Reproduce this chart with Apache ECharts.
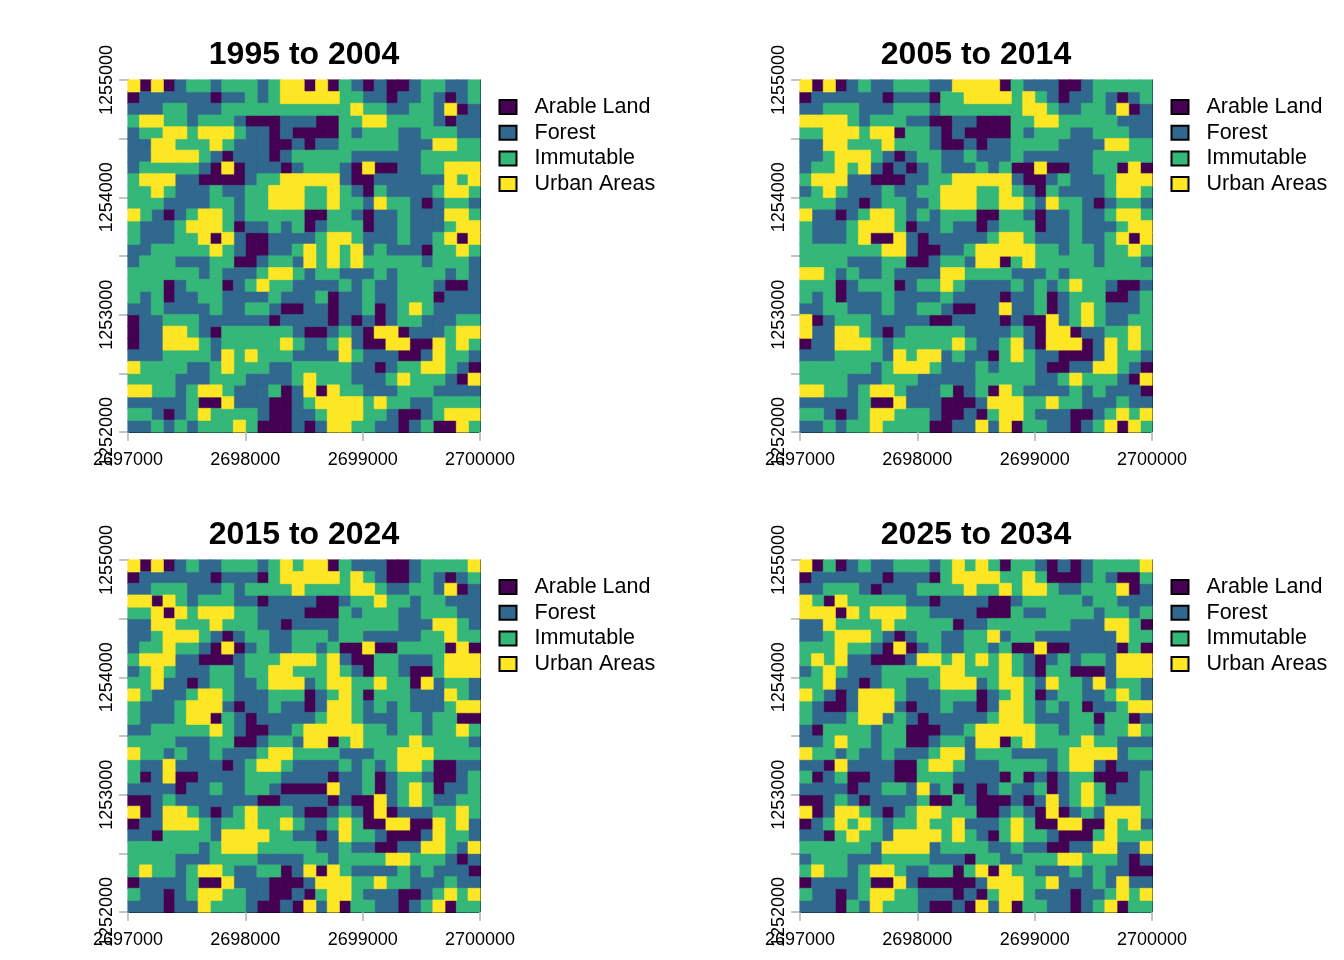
<!DOCTYPE html>
<html>
<head>
<meta charset="utf-8">
<style>html,body{margin:0;padding:0;background:#fff}#c{width:1344px;height:960px}</style>
<script src="https://cdn.jsdelivr.net/npm/echarts@6/dist/echarts.min.js"></script>
</head>
<body>
<div id="c"></div>
<script>
const classNames = ['Arable Land', 'Forest', 'Immutable', 'Urban Areas'];
const classColors = ['#440154', '#31688E', '#35B779', '#FDE725'];
const panelTitles = ['1995 to 2004', '2005 to 2014', '2015 to 2024', '2025 to 2034'];
const eastingRange = [2697000, 2700000];
const northingRange = [1252000, 1255000];

const grid1995 = [
[3,0,3,0,1,2,2,1,2,2,2,1,2,3,3,0,3,0,2,1,0,1,0,0,1,2,2,1,1,2],
[0,1,1,1,1,1,1,0,1,1,2,1,2,3,3,3,3,3,2,2,1,1,0,1,1,2,1,0,1,2],
[1,1,1,2,2,1,1,1,2,2,2,2,2,2,2,2,2,2,2,3,2,2,1,1,2,2,1,3,0,1],
[2,3,3,2,2,1,2,2,2,1,0,0,0,1,1,1,0,0,2,2,3,3,2,2,2,2,1,0,1,1],
[1,2,2,3,3,2,3,3,3,2,1,1,0,1,0,0,0,0,2,1,2,2,2,1,1,2,2,2,1,1],
[1,1,3,3,2,2,2,3,2,1,1,1,0,0,1,0,1,1,2,2,2,2,2,1,1,1,3,3,2,2],
[1,1,3,3,3,3,2,1,0,1,1,1,0,1,2,2,2,2,2,1,1,1,1,1,1,2,2,2,2,2],
[1,2,2,2,2,2,1,0,3,0,1,1,1,0,1,2,2,2,1,0,3,0,0,1,1,2,2,3,3,3],
[2,3,3,3,1,1,0,0,0,0,1,2,2,3,3,3,3,3,1,0,0,1,1,1,1,1,1,3,2,3],
[2,2,3,2,1,1,1,2,1,1,2,2,3,3,3,2,2,3,2,1,0,2,1,1,1,1,2,3,3,2],
[2,2,2,1,1,1,1,2,2,1,2,2,3,3,3,2,2,3,2,2,1,3,2,2,1,0,1,2,2,1],
[3,2,1,0,1,2,3,3,2,1,2,2,2,2,2,0,0,2,2,1,0,1,1,2,1,1,1,3,3,2],
[2,1,1,1,2,3,3,3,2,0,1,1,2,1,2,0,1,2,2,2,0,1,1,2,1,1,1,2,3,3],
[2,1,1,1,2,2,3,0,3,1,0,0,1,1,1,1,2,3,3,2,1,1,1,2,1,1,2,3,0,3],
[1,1,2,2,2,2,2,3,2,1,0,0,1,1,2,3,2,3,2,3,1,2,1,1,1,0,2,2,3,2],
[1,2,2,2,1,1,1,2,2,0,0,1,2,2,1,3,2,3,2,3,2,2,2,2,2,1,2,2,2,1],
[2,2,2,2,2,2,1,2,1,1,1,2,3,3,2,1,2,2,1,1,1,2,1,2,2,2,2,1,2,1],
[2,2,2,0,1,2,2,2,0,1,2,3,2,2,1,1,1,1,2,1,2,1,1,2,2,2,1,0,0,1],
[2,1,2,0,1,1,2,2,1,1,1,1,2,1,1,1,2,0,1,1,2,1,1,2,2,2,0,1,1,1],
[1,1,2,1,1,1,1,2,1,1,2,2,1,0,0,1,1,0,1,1,2,0,1,2,3,2,1,1,1,1],
[0,1,1,2,2,2,1,1,1,1,1,1,0,1,1,1,1,0,1,0,1,0,1,2,2,1,1,1,2,2],
[0,1,1,3,3,2,1,0,2,2,2,2,2,2,1,0,0,1,2,1,0,3,3,0,1,1,1,2,3,3],
[0,1,1,3,3,3,2,1,2,2,2,2,2,3,2,1,1,2,3,1,0,0,3,3,0,0,3,2,3,2],
[1,1,1,2,2,2,2,1,3,2,3,2,2,2,1,1,1,1,3,2,1,1,1,0,0,1,3,2,2,1],
[3,2,2,2,2,1,1,2,3,2,2,2,1,1,2,2,2,2,2,1,1,0,1,2,2,3,3,2,1,0],
[2,2,2,2,1,1,1,2,2,2,1,1,1,1,2,3,2,2,2,1,1,1,2,3,2,2,2,1,0,3],
[3,3,2,2,1,2,3,3,2,1,1,1,2,0,1,3,0,3,2,2,1,1,1,2,2,2,1,1,1,1],
[1,1,1,1,1,2,0,0,3,1,1,1,0,0,1,2,3,3,3,3,2,3,2,2,1,1,2,2,2,2],
[2,2,1,0,1,2,3,2,2,2,2,1,0,0,1,1,2,3,3,3,2,2,1,0,0,1,2,3,3,3],
[1,1,2,1,2,1,2,2,2,3,2,0,0,0,1,0,1,3,3,2,2,1,1,0,1,2,0,0,3,2]
];
const grid2005 = [
[3,0,3,0,1,2,1,1,2,2,2,1,1,3,3,3,3,0,2,1,1,1,0,0,1,2,2,2,2,2],
[0,1,1,1,1,1,1,0,1,1,1,0,2,2,3,3,3,3,2,3,2,1,0,1,1,2,1,0,1,2],
[1,1,2,2,2,1,1,1,2,2,2,1,2,2,2,2,2,2,2,3,3,2,1,1,2,2,1,3,0,1],
[3,3,3,3,2,1,2,2,2,1,1,0,0,1,1,0,0,0,2,2,3,3,2,2,2,2,2,1,1,1],
[2,2,3,3,3,2,3,3,0,2,2,1,0,1,0,0,0,0,2,1,2,2,2,1,1,2,2,2,1,1],
[1,1,3,3,2,2,2,3,2,2,2,1,0,0,1,0,1,1,2,2,2,2,1,1,1,1,3,3,2,2],
[1,1,2,3,3,3,2,1,0,1,2,2,1,1,2,1,1,1,2,1,1,1,1,1,1,2,2,2,2,2],
[1,2,2,3,2,3,1,0,1,0,1,2,1,1,1,2,1,2,0,0,3,0,0,1,1,2,2,0,3,0],
[2,3,3,3,1,1,0,0,0,1,1,2,2,3,3,3,3,3,1,0,0,1,2,1,1,1,2,3,3,3],
[1,2,3,2,1,1,1,2,1,1,2,2,3,3,3,2,2,3,2,1,0,2,1,1,1,1,2,3,3,2],
[2,2,2,1,1,0,1,2,2,1,1,2,3,3,3,2,2,3,3,2,1,3,2,2,1,0,1,2,2,1],
[3,1,1,0,1,2,3,3,2,1,2,1,2,2,2,0,0,2,2,1,0,1,1,2,1,1,2,3,3,2],
[2,1,1,1,2,3,3,3,2,0,1,1,2,1,1,0,1,2,2,2,0,1,1,2,1,1,1,2,3,3],
[2,1,1,1,2,3,0,0,3,1,0,1,1,1,1,1,2,3,3,2,1,1,1,2,1,1,2,3,0,3],
[2,2,2,2,2,2,2,3,3,1,0,0,1,1,2,3,3,3,3,3,2,2,1,2,2,1,2,2,3,2],
[2,2,2,2,1,1,1,2,2,0,0,1,2,2,1,3,3,0,2,3,2,2,2,2,2,1,2,2,2,1],
[3,3,2,1,2,1,1,2,1,1,1,1,3,3,2,2,2,2,1,1,1,2,1,2,2,2,2,2,2,2],
[2,2,2,0,1,2,2,2,0,1,2,2,3,2,1,1,1,1,2,1,2,1,2,3,2,2,1,0,0,1],
[2,1,2,0,1,1,1,2,1,1,1,1,2,1,1,1,1,0,1,1,2,0,1,2,2,2,0,0,1,2],
[1,1,2,2,1,1,1,2,1,1,2,2,1,0,0,1,1,3,1,1,2,0,1,2,3,2,1,1,1,2],
[3,0,1,2,2,2,1,1,1,1,1,0,0,1,1,1,1,0,1,0,0,3,1,2,3,2,1,1,2,2],
[3,1,1,3,3,2,1,0,1,2,2,2,2,2,1,1,1,1,2,1,0,3,3,0,1,1,2,2,3,2],
[0,1,1,3,3,3,2,1,2,2,2,2,2,3,2,1,1,2,3,1,0,3,3,3,0,1,3,2,3,2],
[1,1,1,2,2,2,2,1,3,2,3,3,1,2,1,1,0,2,3,2,1,1,0,0,0,1,3,2,2,1],
[2,2,2,2,2,2,1,2,3,3,3,2,1,1,1,2,1,2,2,2,1,0,0,1,1,3,3,2,1,0],
[2,2,2,2,1,1,1,2,2,2,1,1,1,1,1,2,2,2,2,2,1,1,2,3,2,2,2,1,0,3],
[3,3,2,2,1,2,3,3,2,1,1,1,2,0,1,2,0,3,2,1,1,1,1,2,1,2,1,1,1,0],
[1,1,1,1,1,2,0,0,3,1,1,1,0,0,0,1,3,3,3,2,2,3,2,2,1,1,1,2,1,1],
[2,2,1,0,1,2,3,3,2,2,2,1,0,0,1,0,2,3,3,2,1,1,1,0,0,1,2,3,2,3],
[1,1,2,1,2,2,3,2,2,2,2,0,0,1,1,3,1,3,0,2,2,1,1,0,1,2,3,0,3,2]
];
const grid2015 = [
[3,0,3,0,1,2,1,1,2,2,2,1,2,3,2,3,3,0,2,1,1,1,0,0,1,2,2,2,2,3],
[0,1,1,1,1,1,1,0,1,1,1,0,2,3,3,3,3,3,2,3,2,1,0,0,1,2,1,0,1,2],
[1,1,2,2,2,1,1,1,2,1,2,2,2,2,3,2,2,2,2,3,3,2,1,1,2,2,1,3,0,1],
[3,3,0,3,2,1,2,2,2,1,1,0,1,1,1,1,0,0,1,2,2,3,2,2,1,2,2,1,1,1],
[2,2,3,0,3,2,3,3,3,2,2,1,1,1,1,0,0,0,2,1,2,2,2,1,1,2,2,2,1,1],
[1,1,3,3,2,2,2,3,2,2,2,1,1,0,1,1,1,1,2,2,2,2,2,1,1,1,3,3,2,1],
[1,1,2,3,3,3,2,1,0,1,2,2,1,1,2,2,2,1,2,2,1,1,1,1,1,2,2,3,2,2],
[1,2,2,3,2,2,1,0,3,0,1,2,1,1,2,2,1,2,0,0,3,0,0,2,2,2,2,0,3,0],
[2,3,3,3,1,1,0,0,0,1,2,2,2,3,3,3,2,3,1,0,0,2,2,1,1,1,2,3,3,3],
[1,2,3,2,1,1,1,2,2,1,2,2,3,3,2,2,2,3,2,1,0,2,2,1,0,0,2,3,3,3],
[2,2,3,1,1,0,1,2,2,1,1,2,3,3,3,1,2,3,3,2,2,3,2,2,0,3,1,2,2,1],
[3,2,1,1,1,2,3,3,2,1,1,1,2,2,2,0,1,2,3,2,0,2,2,2,1,1,1,3,2,1],
[2,1,1,1,2,3,3,3,1,0,1,1,2,1,1,0,1,3,3,2,1,2,1,2,1,1,1,2,3,3],
[2,1,1,1,2,3,3,0,2,1,0,1,1,1,1,1,2,3,3,2,1,1,1,2,2,1,2,2,0,0],
[1,1,2,2,2,2,2,3,2,1,0,0,1,1,2,3,3,3,3,3,2,2,1,2,2,1,2,2,3,2],
[2,2,2,2,1,1,1,2,2,0,0,1,2,2,1,3,3,0,2,3,2,2,2,2,3,2,2,2,2,1],
[3,2,2,1,2,1,1,2,1,1,1,2,3,3,2,2,2,2,1,1,1,2,2,3,3,3,2,2,2,2],
[2,1,1,3,1,1,1,1,0,1,2,3,3,2,1,1,1,1,2,1,2,1,2,3,3,2,0,0,1,1],
[2,0,1,3,0,0,1,1,1,1,2,2,2,1,1,1,1,0,1,1,2,0,1,2,2,1,0,0,1,2],
[1,1,1,1,0,1,1,2,1,1,2,2,1,0,0,0,0,3,1,1,2,0,1,2,3,2,0,1,1,2],
[0,0,1,2,1,1,1,1,1,1,1,0,0,1,1,1,1,0,1,0,0,3,1,2,3,2,1,1,2,2],
[3,0,1,3,3,2,1,0,1,2,3,2,2,2,1,0,0,1,2,1,0,3,0,1,1,1,2,2,3,2],
[0,1,1,3,3,3,2,1,2,2,3,2,2,3,2,1,1,2,3,2,0,0,3,3,0,0,3,2,3,1],
[1,1,0,2,2,2,2,1,3,3,3,3,2,2,1,1,0,1,3,2,2,1,0,0,0,1,3,2,2,1],
[2,2,2,2,2,2,1,2,3,3,3,2,2,2,2,2,1,1,2,1,1,0,0,1,1,3,3,2,1,3],
[2,2,2,2,1,1,1,2,2,2,2,1,1,1,1,2,2,1,2,2,2,2,3,3,2,2,2,1,0,1],
[2,3,2,2,1,2,3,3,2,1,1,2,2,0,1,3,0,3,2,1,1,1,1,2,1,2,1,1,1,0],
[0,1,1,1,1,2,0,0,3,1,1,1,0,0,0,1,3,3,3,2,2,3,2,2,1,1,1,2,1,1],
[2,1,1,0,1,2,3,3,2,2,1,1,0,0,1,0,2,3,3,2,1,1,1,0,0,1,2,3,2,3],
[1,1,1,0,1,1,3,2,2,2,1,0,0,1,0,3,1,3,0,2,2,1,1,0,1,2,3,0,2,2]
];
const grid2025 = [
[3,0,2,0,1,2,1,1,2,2,2,1,2,3,2,3,2,0,2,2,1,0,1,0,1,2,2,2,2,3],
[0,1,1,1,1,1,1,0,1,1,1,0,2,3,3,3,3,2,2,3,2,0,0,0,1,2,1,0,0,2],
[1,1,2,2,2,1,0,1,1,1,2,2,2,2,3,2,2,3,2,3,3,2,1,1,2,2,2,3,0,1],
[3,2,0,3,2,2,2,2,2,1,1,0,1,1,1,1,0,0,1,2,2,2,2,2,1,2,2,1,1,1],
[3,3,3,0,3,2,3,3,3,2,2,1,1,1,1,0,0,0,2,1,1,2,2,2,2,1,2,2,1,2],
[1,1,3,2,2,2,2,3,2,2,2,2,2,0,1,1,2,2,2,2,2,2,2,1,1,1,3,3,2,0],
[1,1,2,3,3,3,2,1,0,1,2,2,1,1,2,2,3,1,2,2,1,1,1,1,1,1,1,3,2,2],
[2,2,2,3,2,2,1,0,3,0,1,2,1,1,2,2,1,2,0,0,3,0,0,1,1,1,1,0,2,0],
[2,3,2,3,1,1,0,0,0,1,3,3,2,3,2,3,2,3,2,1,0,1,2,1,2,2,1,3,3,3],
[1,2,3,2,1,1,1,2,2,2,2,2,3,3,2,2,2,3,2,1,0,2,2,0,0,0,1,3,3,3],
[2,2,3,1,1,0,1,2,2,1,1,2,3,3,3,1,2,3,3,2,1,3,2,2,1,3,1,2,2,1],
[3,2,1,0,1,3,3,3,2,1,1,1,2,2,2,0,1,2,3,2,0,1,2,2,1,1,2,3,2,1],
[2,1,0,0,1,3,3,3,1,0,1,1,2,1,1,0,1,3,3,2,1,2,1,2,0,1,1,2,3,3],
[2,1,1,1,2,3,3,1,2,1,0,1,1,1,1,1,2,3,3,2,1,1,1,2,2,0,2,2,0,1],
[1,0,2,2,2,2,1,2,2,0,0,0,1,1,2,3,3,3,3,3,2,2,1,2,2,1,2,2,3,2],
[1,1,2,3,2,2,1,2,2,0,0,1,2,2,1,3,3,0,2,3,2,2,2,2,3,2,2,1,1,1],
[3,2,2,1,2,1,1,2,1,1,1,2,3,3,1,2,2,2,1,1,1,1,2,3,3,3,3,1,2,2],
[1,1,0,3,1,1,1,1,0,0,2,3,3,2,1,1,1,2,2,2,2,1,2,3,3,1,0,1,1,1],
[2,0,1,2,0,0,1,1,0,0,2,2,2,1,1,1,1,0,2,0,1,0,1,2,2,0,0,0,1,2],
[1,1,1,1,0,1,1,2,2,1,3,1,2,0,1,0,1,2,1,1,2,0,1,2,3,2,0,1,1,2],
[0,0,1,2,1,0,1,1,1,1,2,0,0,2,1,0,0,0,1,0,1,3,1,2,3,2,1,1,1,2],
[3,0,1,3,3,2,1,0,1,2,3,3,2,2,2,0,0,1,2,1,0,3,0,1,2,1,3,3,3,2],
[0,1,2,3,2,3,2,1,2,2,3,2,2,3,1,1,1,2,3,2,0,0,3,3,0,0,3,2,3,1],
[1,1,0,2,3,2,2,1,3,3,3,3,2,3,2,1,0,2,3,2,2,1,0,0,0,2,3,2,2,2],
[2,2,2,2,2,2,1,3,3,3,3,1,2,2,2,2,1,1,2,1,1,0,0,1,1,3,3,1,1,3],
[1,2,2,2,1,1,1,2,2,2,2,1,1,1,0,2,2,1,1,2,2,2,3,3,2,2,2,1,0,1],
[2,3,2,2,1,2,3,3,2,1,1,2,2,0,2,3,0,3,2,2,1,1,1,2,1,2,1,1,0,0],
[0,1,1,1,1,2,0,0,3,1,0,0,0,0,0,1,3,3,3,2,2,3,1,1,1,2,1,3,1,1],
[2,1,1,0,1,2,3,3,2,2,1,1,1,0,1,0,2,3,3,2,1,1,1,0,1,1,2,3,2,3],
[1,1,1,0,2,1,3,2,2,2,1,0,0,1,0,3,1,3,0,2,2,1,1,0,1,2,3,0,2,2]
];
const panelGrids = [grid1995, grid2005, grid2015, grid2025];

const FONT = '"Liberation Sans", Arial, sans-serif';
const plotLefts = [128, 800];
const plotTops = [80, 560];
const plotSize = 352;
const tickGrey = '#c4c4c4';
const cellIdx = Array.from({length: 30}, (_, i) => String(i));

const option = {
  backgroundColor: '#fff', animation: false, tooltip: {show: false},
  title: [], legend: [], grid: [], xAxis: [], yAxis: [], series: []
};

panelGrids.forEach((rows, p) => {
  const L = plotLefts[p % 2], T = plotTops[p >> 1];
  option.grid.push({left: L, top: T, width: plotSize, height: plotSize, show: false, containLabel: false});
  option.title.push({
    text: panelTitles[p], left: L + plotSize / 2 - 5, top: T - 46, textAlign: 'center',
    textStyle: {fontFamily: FONT, fontSize: 32, fontWeight: 'bold', color: '#000'}
  });
  option.legend.push({
    show: true, orient: 'vertical', left: L + 365.5, top: T + 11, icon: 'rect',
    itemWidth: 17, itemHeight: 14, itemGap: 3.7, selectedMode: false, data: classNames,
    itemStyle: {borderColor: '#000', borderWidth: 2},
    textStyle: {fontFamily: FONT, fontSize: 21.5, color: '#000', padding: [0, 0, 0, 13]}
  });
  // hidden band axes that carry the raster cells
  option.xAxis.push({type: 'category', gridIndex: p, data: cellIdx, show: false, position: 'bottom'});
  option.yAxis.push({type: 'category', gridIndex: p, data: cellIdx, show: false, inverse: true, position: 'left'});
  // visible coordinate axes
  option.xAxis.push({
    type: 'value', gridIndex: p, position: 'bottom', min: eastingRange[0], max: eastingRange[1], interval: 1000,
    axisLine: {show: true, lineStyle: {color: '#000', width: 1}},
    axisTick: {show: true, length: 9, lineStyle: {color: tickGrey, width: 2}},
    splitLine: {show: false},
    axisLabel: {show: true, fontFamily: FONT, fontSize: 18, color: '#000', margin: 19, hideOverlap: false, formatter: v => String(v)}
  });
  option.yAxis.push({
    type: 'value', gridIndex: p, position: 'left', min: northingRange[0], max: northingRange[1], interval: 500,
    axisLine: {show: true, lineStyle: {color: '#000', width: 1}},
    axisTick: {show: true, length: 9, lineStyle: {color: tickGrey, width: 2}},
    splitLine: {show: false},
    axisLabel: {show: true, fontFamily: FONT, fontSize: 18, color: '#000', rotate: 90, margin: 12, hideOverlap: false,
      formatter: v => v % 1000 === 0 ? String(v) : ''}
  });
  classNames.forEach((name, k) => {
    const data = [];
    rows.forEach((row, r) => row.forEach((v, c) => { if (v === k) data.push([c, r, v]); }));
    option.series.push({
      type: 'heatmap', name, xAxisIndex: 0, yAxisIndex: 0, data,
      itemStyle: {color: classColors[k], borderColor: classColors[k], borderWidth: 0.6},
      label: {show: false}, emphasis: {disabled: true}, progressive: 0, z: 1
    });
  });
  // top and right edges of the frame
  option.xAxis.push({
    type: 'value', gridIndex: p, position: 'top', min: eastingRange[0], max: eastingRange[1],
    axisLine: {show: true, lineStyle: {color: '#000', width: 1}}, axisTick: {show: false}, axisLabel: {show: false}, splitLine: {show: false}
  });
  option.yAxis.push({
    type: 'value', gridIndex: p, position: 'right', min: northingRange[0], max: northingRange[1],
    axisLine: {show: true, lineStyle: {color: '#000', width: 1}}, axisTick: {show: false}, axisLabel: {show: false}, splitLine: {show: false}
  });
});

// series axis indices: three axes per panel, band axis first
option.series.forEach((s, i) => { const p = Math.floor(i / 4); s.xAxisIndex = 3 * p; s.yAxisIndex = 3 * p; });

const chart = echarts.init(document.getElementById('c'), null, {renderer: 'canvas'});
chart.setOption(option);
</script>
</body>
</html>
